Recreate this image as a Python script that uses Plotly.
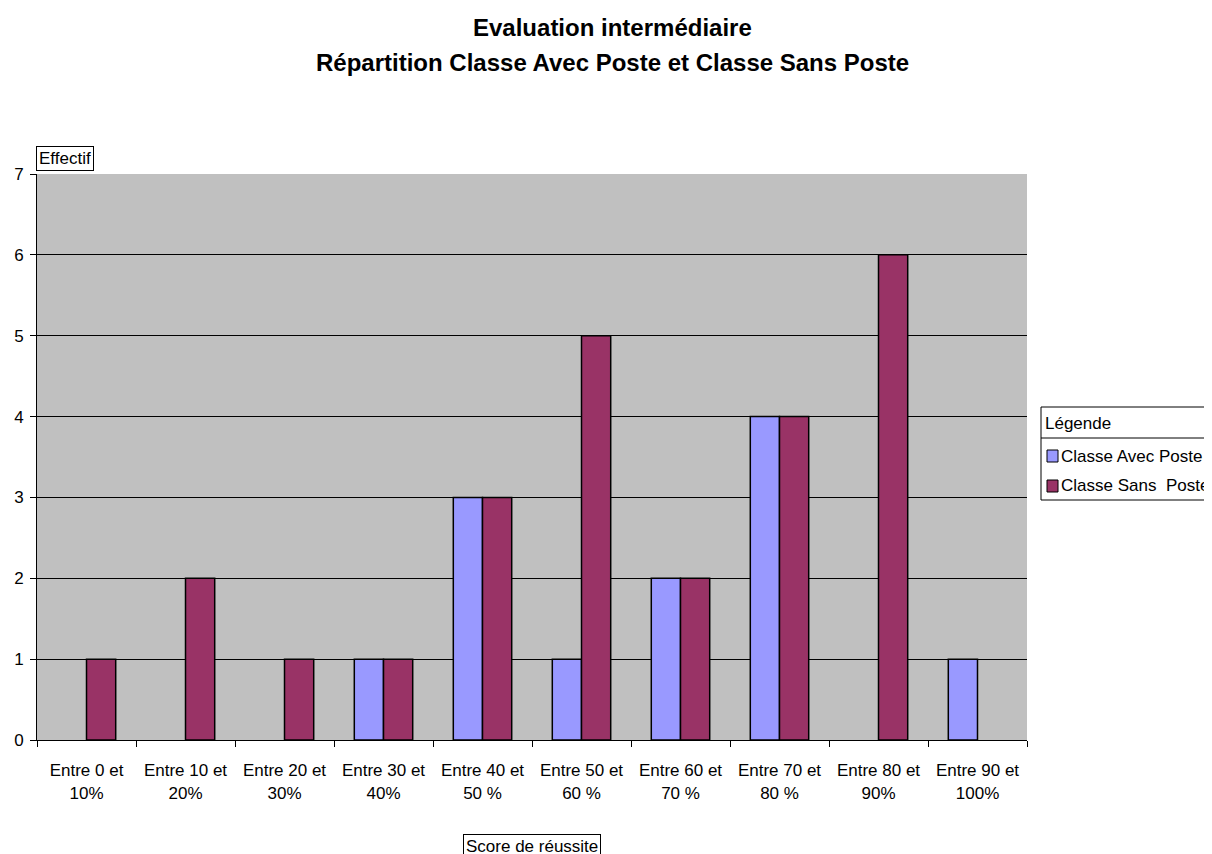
import plotly.graph_objects as go

categories = ["Entre 0 et<br>10%", "Entre 10 et<br>20%", "Entre 20 et<br>30%", "Entre 30 et<br>40%",
              "Entre 40 et<br>50 %", "Entre 50 et<br>60 %", "Entre 60 et<br>70 %", "Entre 70 et<br>80 %",
              "Entre 80 et<br>90%", "Entre 90 et<br>100%"]
avec_poste = [0, 0, 0, 1, 3, 1, 2, 4, 0, 1]
sans_poste = [1, 2, 1, 1, 3, 5, 2, 4, 6, 0]
series_names = ["Classe Avec Poste", "Classe Sans  Poste"]
series_colors = ["#9999FF", "#993366"]
title_lines = ["Evaluation intermédiaire", "Répartition Classe Avec Poste et Classe Sans Poste"]

FONT = "Liberation Sans, Arial, sans-serif"

fig = go.Figure()
for name, vals, col in zip(series_names, [avec_poste, sans_poste], series_colors):
    fig.add_trace(go.Bar(x=categories, y=vals, name=name, showlegend=False,
                         marker=dict(color=col,
                                     line=dict(color="black", width=[1.5 if v else 0 for v in vals]))))

W, H = 1212, 854
OFF = 8  # page offset of the figure inside the browser window
# plot area in window pixels: x 37..1027, y 174..740
L, T = 37 - OFF, 174 - OFF
R, B = W - (1027 - OFF), H - (740 - OFF)
pw = W - L - R
ph = H - T - B


def px(x):
    return (x - OFF - L) / pw


def py(y):
    return (H - B - (y - OFF)) / ph


shapes = [
    dict(type="rect", xref="paper", yref="paper", x0=px(1041), x1=px(1216), y0=py(407), y1=py(500),
         line=dict(color="black", width=1), fillcolor="white", layer="above"),
    dict(type="line", xref="paper", yref="paper", x0=px(1041), x1=px(1216), y0=py(438), y1=py(438),
         line=dict(color="black", width=1), layer="above"),
]
annotations = [
    dict(text="Effectif", xref="paper", yref="paper", x=px(36), y=py(171), xanchor="left", yanchor="bottom",
         showarrow=False, bordercolor="black", borderwidth=1, borderpad=2, bgcolor="white",
         font=dict(size=17)),
    dict(text="Score de réussite", xref="paper", yref="paper", x=px(532), y=py(846),
         xanchor="center", yanchor="middle", showarrow=False, bordercolor="black", borderwidth=1,
         borderpad=2, bgcolor="white", font=dict(size=17)),
    dict(text="Légende", xref="paper", yref="paper", x=px(1043), y=py(423), xanchor="left",
         yanchor="middle", showarrow=False, font=dict(size=17)),
]
for line, yc in zip(title_lines, [28, 63]):
    annotations.append(dict(text="<b>" + line + "</b>", xref="paper", yref="paper", x=px(612), y=py(yc),
                            xanchor="center", yanchor="middle", showarrow=False,
                            font=dict(family=FONT, size=24, color="black")))
for i, (name, col) in enumerate(zip(series_names, series_colors)):
    yc = 456 + 30 * i
    shapes.append(dict(type="rect", xref="paper", yref="paper", x0=px(1047), x1=px(1058),
                       y0=py(yc - 6), y1=py(yc + 6), fillcolor=col,
                       line=dict(color="black", width=1), layer="above"))
    annotations.append(dict(text=name, xref="paper", yref="paper", x=px(1059), y=py(yc),
                            xanchor="left", yanchor="middle", showarrow=False, font=dict(size=17)))

fig.update_layout(
    width=W, height=H,
    margin=dict(l=L, r=R, t=T, b=B, autoexpand=False),
    paper_bgcolor="white", plot_bgcolor="#C0C0C0",
    barmode="group", bargap=0.41, bargroupgap=0,
    font=dict(family=FONT, size=17, color="black"),
    showlegend=False,
    xaxis=dict(showgrid=False, showline=True, linecolor="black", linewidth=1,
               ticks="outside", ticklen=6, tickcolor="black", tickson="boundaries",
               tickfont=dict(size=17), ticklabelstandoff=15),
    yaxis=dict(range=[0, 7], dtick=1, showgrid=True, gridcolor="black", gridwidth=1,
               showline=True, linecolor="black", linewidth=1, ticks="outside", ticklen=6,
               tickcolor="black", tickfont=dict(size=17), zeroline=False, ticklabelstandoff=3),
    shapes=shapes,
    annotations=annotations,
)

fig.write_html("out.html")
